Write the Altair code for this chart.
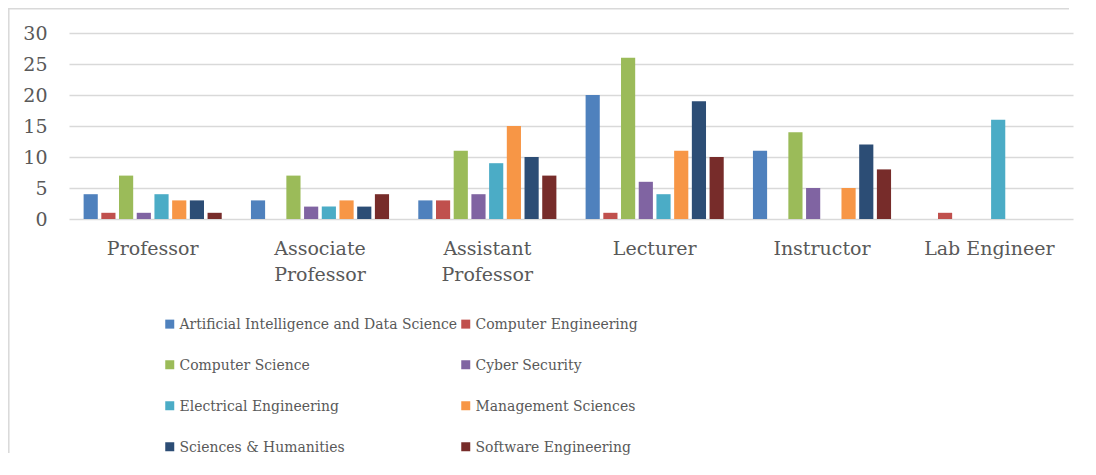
import altair as alt
import pandas as pd

categories = ["Professor", "Associate Professor", "Assistant Professor",
              "Lecturer", "Instructor", "Lab Engineer"]
series = ["Artificial Intelligence and Data Science", "Computer Engineering",
          "Computer Science", "Cyber Security", "Electrical Engineering",
          "Management Sciences", "Sciences & Humanities", "Software Engineering"]
ai_ds = [4, 3, 3, 20, 11, 0]
comp_eng = [1, 0, 3, 1, 0, 1]
comp_sci = [7, 7, 11, 26, 14, 0]
cyber = [1, 2, 4, 6, 5, 0]
elec_eng = [4, 2, 9, 4, 0, 16]
mgmt = [3, 3, 15, 11, 5, 0]
sci_hum = [3, 2, 10, 19, 12, 0]
soft_eng = [1, 4, 7, 10, 8, 0]
colors = ["#4F81BD", "#C0504D", "#9BBB59", "#8064A2",
          "#4BACC6", "#F79646", "#2C4D75", "#772C2A"]

all_vals = [ai_ds, comp_eng, comp_sci, cyber, elec_eng, mgmt, sci_hum, soft_eng]
rows = []
for s, vals in zip(series, all_vals):
    for c, v in zip(categories, vals):
        rows.append({"category": c, "series": s, "value": v})
df = pd.DataFrame(rows)

AXIS_FONT = "DejaVu Serif"
LEG_FONT = "DejaVu Serif Condensed, Liberation Serif"
TXT = "#595959"

bars = alt.Chart(df).mark_bar().encode(
    x=alt.X("category:N", sort=categories,
            scale=alt.Scale(paddingInner=0, paddingOuter=0),
            axis=alt.Axis(title=None, domain=False, ticks=False, labelAngle=0,
                          labelFont=AXIS_FONT, labelFontSize=19, labelColor=TXT,
                          labelPadding=20, labelLineHeight=26,
                          labelExpr="indexof(datum.label, ' Professor') > 0 ? split(datum.label, ' ') : datum.label")),
    xOffset=alt.XOffset("series:N", sort=series,
                        scale=alt.Scale(domain=series, paddingInner=0.2, paddingOuter=0.825)),
    y=alt.Y("value:Q", scale=alt.Scale(domain=[0, 30], nice=False),
            axis=alt.Axis(title=None, values=[0, 5, 10, 15, 20, 25, 30], domain=False,
                          ticks=False, grid=True, gridColor="#d9d9d9", gridWidth=1.5,
                          labelFont=AXIS_FONT, labelFontSize=19, labelColor=TXT,
                          labelPadding=22)),
    color=alt.Color("series:N", sort=series,
                    scale=alt.Scale(domain=series, range=colors),
                    legend=alt.Legend(title=None, orient="none", legendX=93, legendY=283,
                                      columns=2, direction="horizontal",
                                      symbolType="square", symbolSize=81,
                                      symbolStrokeWidth=0, labelOffset=2,
                                      rowPadding=24, columnPadding=0,
                                      labelFont=LEG_FONT, labelFontSize=15.5,
                                      labelColor=TXT, labelLimit=0)),
)

frame_df = pd.DataFrame({"k": [0]})
top_line = alt.Chart(frame_df).mark_rule(color="#d9d9d9", strokeWidth=1.5).encode(
    x=alt.value(-61), x2=alt.value(1000), y=alt.value(-24.2))
left_line = alt.Chart(frame_df).mark_rule(color="#d9d9d9", strokeWidth=1.5).encode(
    x=alt.value(-60.2), y=alt.value(-24.2), y2=alt.value(420))

chart = alt.layer(bars, top_line, left_line).properties(
    width=1004, height=186,
    autosize=alt.AutoSizeParams(type="none"),
    padding={"left": 61, "top": 25, "right": 10, "bottom": 240},
).configure_view(stroke=None)

chart.save("out.html", embed_options={"renderer": "svg", "actions": False})
